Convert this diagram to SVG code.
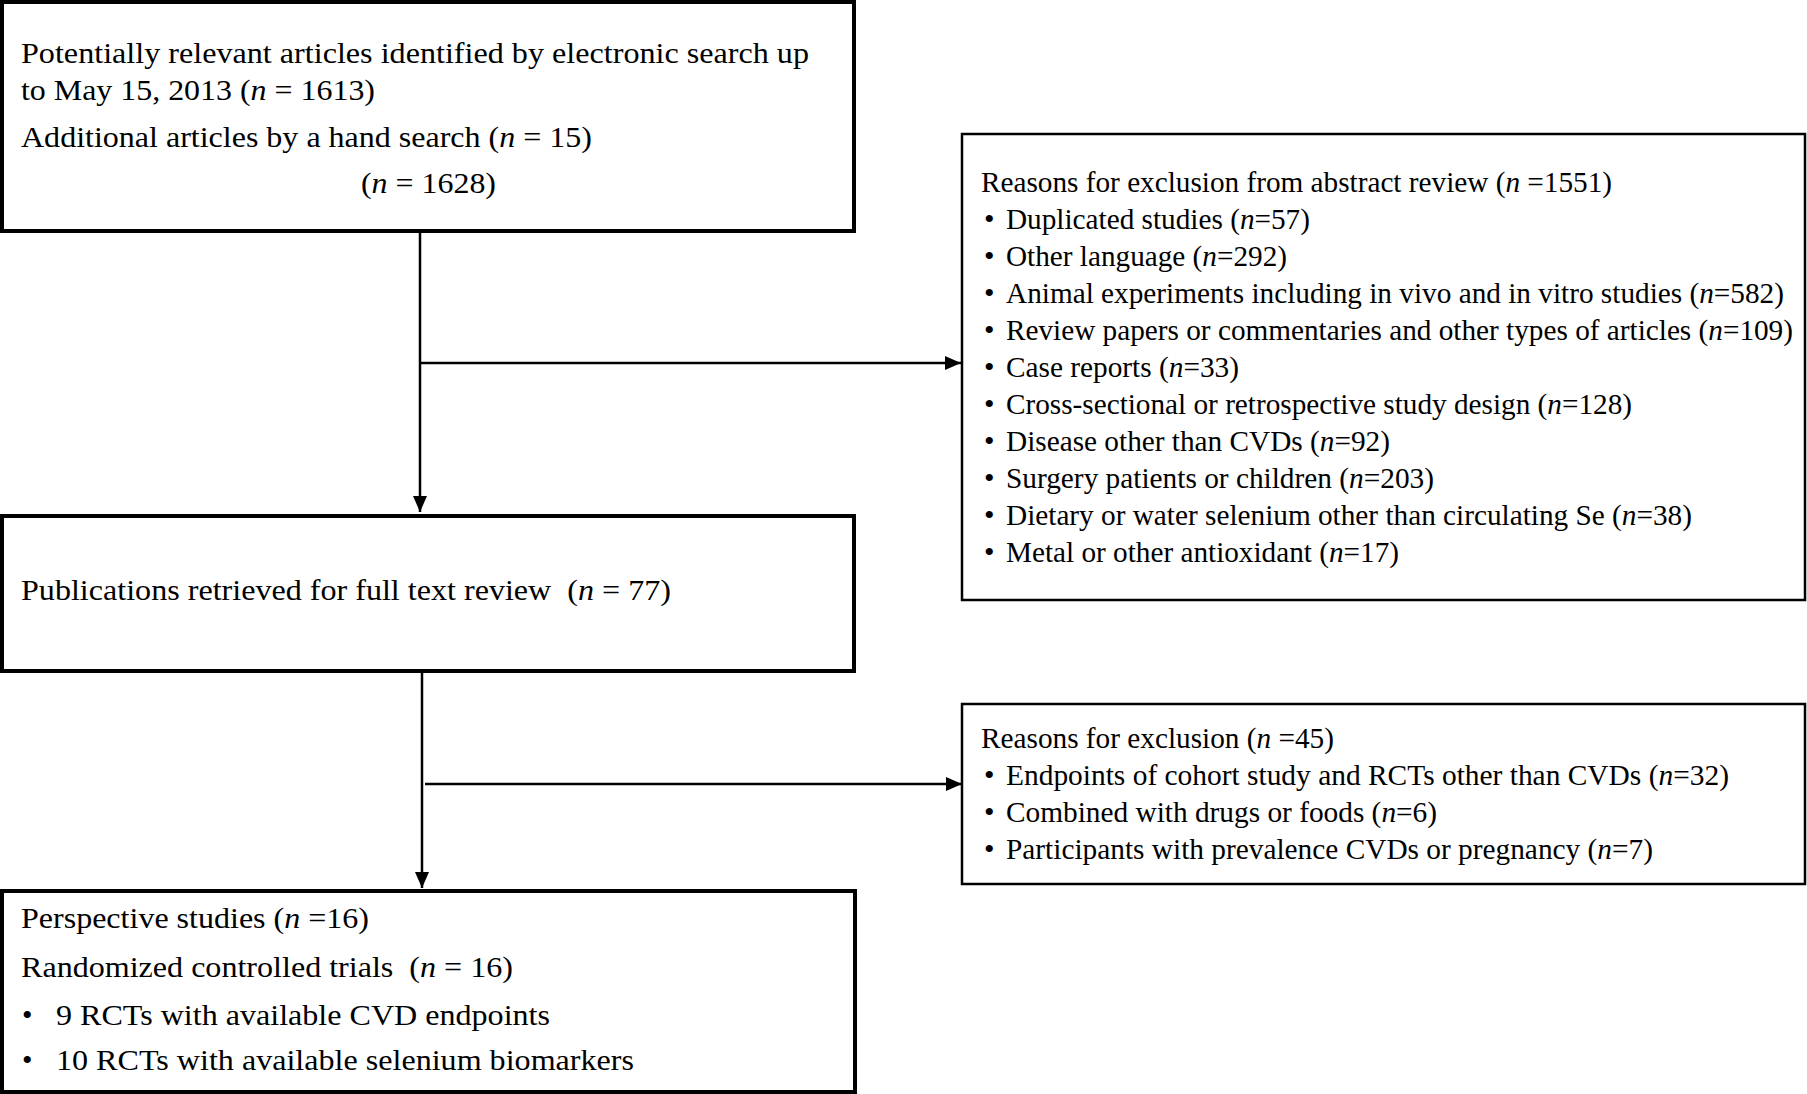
<svg xmlns="http://www.w3.org/2000/svg" width="1807" height="1094" viewBox="0 0 1807 1094">
<defs>
<style>
.box{fill:#fff;stroke:#000;stroke-width:4}
.rbox{fill:#fff;stroke:#000;stroke-width:2.5}
.t{font-family:'Liberation Serif','Times New Roman',Times,serif;font-size:30px;fill:#000}
.i{font-style:italic}
.c{stroke:#000;stroke-width:2.5;fill:none}
</style>
<marker id="ah" viewBox="0 0 16 14" refX="16" refY="7" markerWidth="16" markerHeight="14" markerUnits="userSpaceOnUse" orient="auto">
<path d="M0,0 L16,7 L0,14 Z" fill="#000"/>
</marker>
</defs>
<rect width="1807" height="1094" fill="#fff"/>
<g id="connectors">
<line class="c" x1="420" y1="231" x2="420" y2="512" marker-end="url(#ah)"/>
<line class="c" x1="420" y1="363" x2="961" y2="363" marker-end="url(#ah)"/>
<line class="c" x1="422" y1="671" x2="422" y2="888" marker-end="url(#ah)"/>
<line class="c" x1="425" y1="784" x2="962" y2="784" marker-end="url(#ah)"/>
</g>
<g id="node-identified">
<rect class="box" x="2" y="2" width="852" height="229"/>
<text class="t" x="21" y="63" textLength="788" lengthAdjust="spacingAndGlyphs">Potentially relevant articles identified by electronic search up</text>
<text class="t" x="21" y="100" textLength="354" lengthAdjust="spacingAndGlyphs">to May 15, 2013 (<tspan class="i">n</tspan> = 1613)</text>
<text class="t" x="21" y="147" textLength="571" lengthAdjust="spacingAndGlyphs">Additional articles by a hand search (<tspan class="i">n</tspan> = 15)</text>
<text class="t" x="361" y="193" textLength="135" lengthAdjust="spacingAndGlyphs">(<tspan class="i">n</tspan> = 1628)</text>
</g>
<g id="node-fulltext">
<rect class="box" x="2" y="516" width="852" height="155"/>
<text class="t" x="21" y="600" textLength="650" lengthAdjust="spacingAndGlyphs">Publications retrieved for full text review&#160; (<tspan class="i">n</tspan> = 77)</text>
</g>
<g id="node-included">
<rect class="box" x="2" y="891" width="853" height="201"/>
<text class="t" x="21" y="928" textLength="348" lengthAdjust="spacingAndGlyphs">Perspective studies (<tspan class="i">n</tspan> =16)</text>
<text class="t" x="21" y="977" textLength="492" lengthAdjust="spacingAndGlyphs">Randomized controlled trials&#160; (<tspan class="i">n</tspan> = 16)</text>
<text class="t" x="22" y="1025">•</text>
<text class="t" x="56" y="1025" textLength="494" lengthAdjust="spacingAndGlyphs">9 RCTs with available CVD endpoints</text>
<text class="t" x="22" y="1070">•</text>
<text class="t" x="56" y="1070" textLength="578" lengthAdjust="spacingAndGlyphs">10 RCTs with available selenium biomarkers</text>
</g>
<g id="node-excl-abstract">
<rect class="rbox" x="962" y="134" width="843" height="466"/>
<text class="t" x="981" y="192" textLength="631" lengthAdjust="spacingAndGlyphs">Reasons for exclusion from abstract review (<tspan class="i">n</tspan> =1551)</text>
<g class="t">
<text x="984" y="229">•</text><text x="1006" y="229" textLength="304" lengthAdjust="spacingAndGlyphs">Duplicated studies (<tspan class="i">n</tspan>=57)</text>
<text x="984" y="266">•</text><text x="1006" y="266" textLength="281" lengthAdjust="spacingAndGlyphs">Other language (<tspan class="i">n</tspan>=292)</text>
<text x="984" y="303">•</text><text x="1006" y="303" textLength="778" lengthAdjust="spacingAndGlyphs">Animal experiments including in vivo and in vitro studies (<tspan class="i">n</tspan>=582)</text>
<text x="984" y="340">•</text><text x="1006" y="340" textLength="787" lengthAdjust="spacingAndGlyphs">Review papers or commentaries and other types of articles (<tspan class="i">n</tspan>=109)</text>
<text x="984" y="377">•</text><text x="1006" y="377" textLength="233" lengthAdjust="spacingAndGlyphs">Case reports (<tspan class="i">n</tspan>=33)</text>
<text x="984" y="414">•</text><text x="1006" y="414" textLength="626" lengthAdjust="spacingAndGlyphs">Cross-sectional or retrospective study design (<tspan class="i">n</tspan>=128)</text>
<text x="984" y="451">•</text><text x="1006" y="451" textLength="384" lengthAdjust="spacingAndGlyphs">Disease other than CVDs (<tspan class="i">n</tspan>=92)</text>
<text x="984" y="488">•</text><text x="1006" y="488" textLength="428" lengthAdjust="spacingAndGlyphs">Surgery patients or children (<tspan class="i">n</tspan>=203)</text>
<text x="984" y="525">•</text><text x="1006" y="525" textLength="686" lengthAdjust="spacingAndGlyphs">Dietary or water selenium other than circulating Se (<tspan class="i">n</tspan>=38)</text>
<text x="984" y="562">•</text><text x="1006" y="562" textLength="393" lengthAdjust="spacingAndGlyphs">Metal or other antioxidant (<tspan class="i">n</tspan>=17)</text>
</g>
</g>
<g id="node-excl-fulltext">
<rect class="rbox" x="962" y="704" width="843" height="180"/>
<text class="t" x="981" y="748" textLength="353" lengthAdjust="spacingAndGlyphs">Reasons for exclusion (<tspan class="i">n</tspan> =45)</text>
<g class="t">
<text x="984" y="785">•</text><text x="1006" y="785" textLength="723" lengthAdjust="spacingAndGlyphs">Endpoints of cohort study and RCTs other than CVDs (<tspan class="i">n</tspan>=32)</text>
<text x="984" y="822">•</text><text x="1006" y="822" textLength="431" lengthAdjust="spacingAndGlyphs">Combined with drugs or foods (<tspan class="i">n</tspan>=6)</text>
<text x="984" y="859">•</text><text x="1006" y="859" textLength="647" lengthAdjust="spacingAndGlyphs">Participants with prevalence CVDs or pregnancy (<tspan class="i">n</tspan>=7)</text>
</g>
</g>
</svg>
